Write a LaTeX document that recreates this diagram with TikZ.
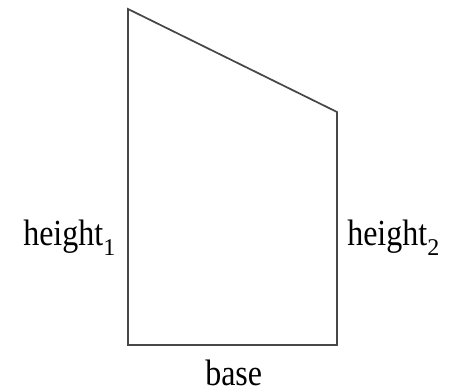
\documentclass[tikz,border=0pt]{standalone}
\usepackage{fontspec}
\setmainfont{Liberation Serif}
\newcommand{\lblsub}[1]{\raisebox{-7pt}{\fontsize{18}{20}\selectfont #1}}
\begin{document}
\begin{tikzpicture}[x=0.75pt,y=-0.75pt,
  edge/.style={draw=black!72,line width=1.3pt,line join=miter},
  lbl/.style={inner sep=0pt,font=\fontsize{24}{27}\selectfont}]
\useasboundingbox (0,0) rectangle (450,392);
\coordinate (tl) at (128,9);
\coordinate (tr) at (337,112);
\coordinate (br) at (337,345);
\coordinate (bl) at (128,345);
\draw[edge] (tl) -- (tr) -- (br) -- (bl) -- cycle;
\node[lbl,anchor=base west] (h1) at (23,246) {\scalebox{1}[1.15]{height}\lblsub{1}};
\node[lbl,anchor=base west] (h2) at (347,246) {\scalebox{1}[1.15]{height}\lblsub{2}};
\node[lbl,anchor=base west] (b) at (205,385) {\scalebox{1}[1.15]{base}};
\end{tikzpicture}
\end{document}
